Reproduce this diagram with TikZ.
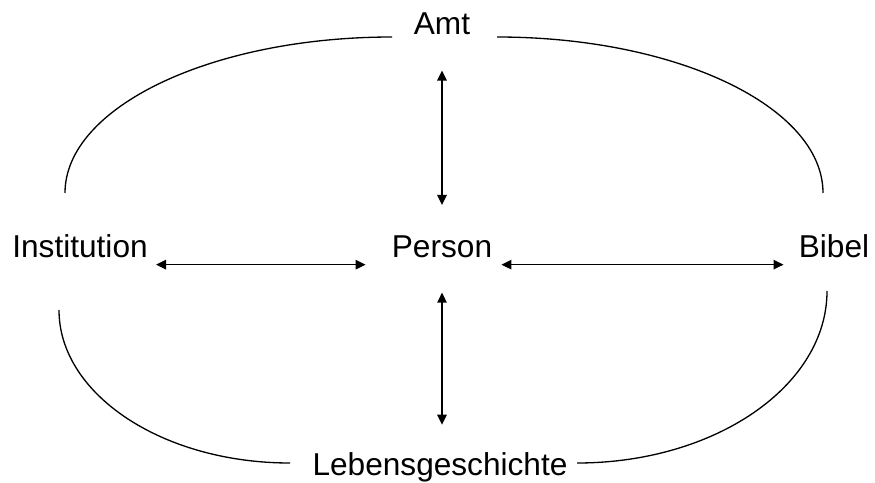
\documentclass[tikz,border=0pt]{standalone}
\usepackage{fontspec}
\setmainfont{Liberation Sans}
\usetikzlibrary{arrows.meta}

\begin{document}
\begin{tikzpicture}[x=0.02cm,y=-0.02cm,
    lbl/.style={font=\fontsize{18}{22}\selectfont,inner sep=0.14cm,anchor=base},
    dbl/.style={{Triangle[length=0.2cm,width=0.19cm]}-{Triangle[length=0.2cm,width=0.19cm]},line width=0.75pt},
    rim/.style={line width=0.75pt}]
  \useasboundingbox (0,0) rectangle (875,483);
  \node[lbl] (amt) at (442,35) {Amt};
  \node[lbl] (person) at (442,257) {Person};
  \node[lbl] (inst) at (80,257) {Institution};
  \node[lbl] (bibel) at (834,257) {Bibel};
  \node[lbl] (leben) at (440,475) {Lebensgeschichte};
  \coordinate (amtL) at (392,37);
  \coordinate (amtR) at (497,37);
  \coordinate (instT) at (65,193);
  \coordinate (bibT) at (823,193);
  \coordinate (instB) at (59,310);
  \coordinate (bibB) at (827,291);
  \coordinate (lebL) at (290,463);
  \coordinate (lebR) at (577,463);
  \draw[rim] (instT) .. controls +(0,-86) and +(-180,0) .. (amtL);
  \draw[rim] (amtR) .. controls +(180,0) and +(0,-86) .. (bibT);
  \draw[rim] (instB) .. controls +(0,84) and +(-128,0) .. (lebL);
  \draw[rim] (lebR) .. controls +(138,0) and +(0,95) .. (bibB);
  \draw[dbl,shorten <=0.56cm,shorten >=0.46cm] (person.north |- amt.south) -- (person.north);
  \draw[dbl,shorten <=0.56cm,shorten >=0.4cm] (person.south) -- (person.south |- leben.north);
  \draw[dbl,shorten <=0.02cm,shorten >=0.38cm] (inst.south east) -- (person.south west);
  \draw[dbl,shorten <=0.04cm,shorten >=0.16cm] (person.south east) -- (bibel.south west);
\end{tikzpicture}
\end{document}
